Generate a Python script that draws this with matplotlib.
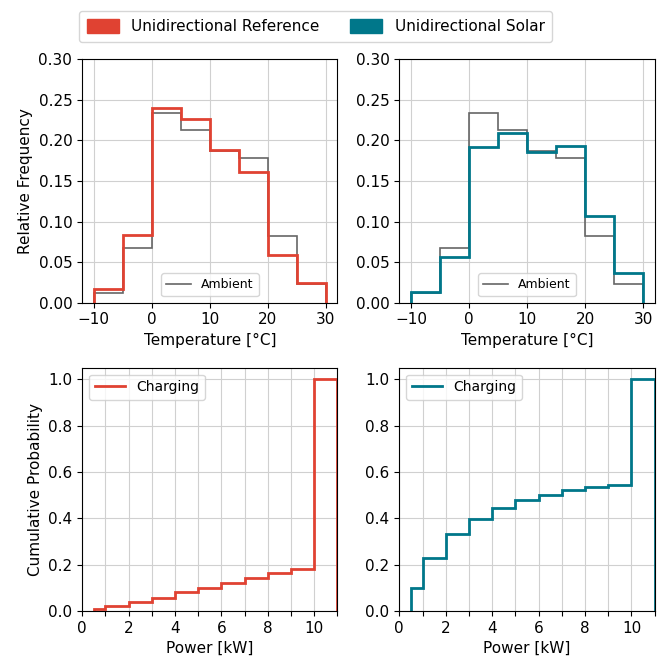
import matplotlib
matplotlib.use("Agg")
import matplotlib.pyplot as plt
import matplotlib.patches as mpatches
import numpy as np

# ---- data ----
temp_edges = [-10, -5, 0, 5, 10, 15, 20, 25, 30]
ambient_freq = [0.0124, 0.0675, 0.2339, 0.2123, 0.187, 0.1788, 0.082, 0.0228]
reference_freq = [0.0174, 0.0828, 0.240, 0.2264, 0.188, 0.1606, 0.0592, 0.0236]
solar_freq = [0.0125, 0.0561, 0.1924, 0.2095, 0.1858, 0.193, 0.1064, 0.037]

power_edges = [0.5, 1, 2, 3, 4, 5, 6, 7, 8, 9, 10, 11]
reference_cdf = [0.007, 0.022, 0.040, 0.055, 0.082, 0.098, 0.121, 0.141, 0.163, 0.182, 1.0]
solar_cdf = [0.097, 0.229, 0.332, 0.395, 0.446, 0.478, 0.501, 0.521, 0.535, 0.545, 1.0]

series_names = ["Unidirectional Reference", "Unidirectional Solar"]
colors = ["#e04232", "#00778a"]
ambient_color = "#666666"

plt.rcParams['font.family'] = ['DejaVu Sans']
plt.rcParams['font.size'] = 11

fig, axes = plt.subplots(2, 2, figsize=(6.62, 6.59), dpi=100)
fig.subplots_adjust(left=0.124, right=0.989, bottom=0.073, top=0.910,
                    wspace=0.242, hspace=0.267)

hist_data = [reference_freq, solar_freq]
cdf_data = [reference_cdf, solar_cdf]

for i in range(2):
    ax = axes[0, i]
    ax.stairs(ambient_freq, temp_edges, color=ambient_color, lw=1.2, label="Ambient")
    ax.stairs(hist_data[i], temp_edges, color=colors[i], lw=2.0)
    ax.set_xlim(-12, 32)
    ax.set_ylim(0, 0.30)
    ax.set_xticks([-10, 0, 10, 20, 30])
    ax.set_yticks(np.arange(0, 0.301, 0.05))
    ax.set_yticklabels([f"{v:.2f}" for v in np.arange(0, 0.301, 0.05)])
    ax.grid(True, color="#d0d0d0", lw=0.8)
    ax.set_axisbelow(True)
    ax.set_xlabel("Temperature [°C]")
    ax.legend(loc="lower center", fontsize=9, handlelength=2.0)

    ax = axes[1, i]
    ax.stairs(cdf_data[i], power_edges, color=colors[i], lw=2.0, label="Charging")
    ax.set_xlim(0, 11)
    ax.set_ylim(0, 1.05)
    ax.set_xticks(range(12))
    ax.set_xticklabels([str(k) if k % 2 == 0 and k <= 10 else "" for k in range(12)])
    ax.set_yticks([0, 0.2, 0.4, 0.6, 0.8, 1.0])
    ax.grid(True, color="#d0d0d0", lw=0.8)
    ax.set_axisbelow(True)
    ax.set_xlabel("Power [kW]")
    ax.legend(loc="upper left", fontsize=10, handlelength=2.2)

axes[0, 0].set_ylabel("Relative Frequency")
axes[1, 0].set_ylabel("Cumulative Probability")

handles = [mpatches.Patch(color=c, label=n) for c, n in zip(colors, series_names)]
fig.legend(handles=handles, loc="upper center", ncol=2,
           bbox_to_anchor=(0.477, 0.995), fontsize=11, handlelength=2.1,
           handleheight=1.1, borderpad=0.5, columnspacing=2.0)

fig.savefig("out.png", dpi=100)
